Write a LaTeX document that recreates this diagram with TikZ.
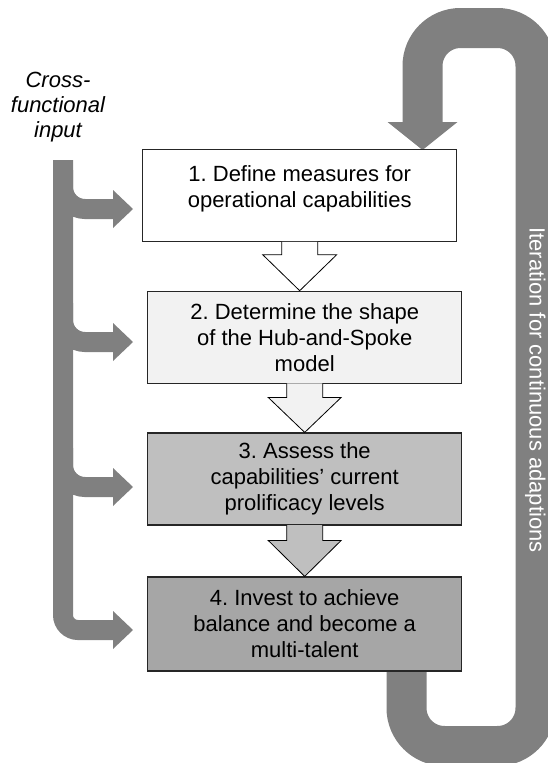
\documentclass[tikz,border=0pt]{standalone}
\usepackage{fontspec}
\setmainfont{Liberation Sans}
\usetikzlibrary{calc}
\definecolor{loopgray}{HTML}{808080}
\definecolor{boxtwo}{HTML}{F2F2F2}
\definecolor{boxthree}{HTML}{BFBFBF}
\definecolor{boxfour}{HTML}{A6A6A6}
\frenchspacing
\begin{document}
\begin{tikzpicture}[x=1pt,y=-1pt,
  stepbox/.style={draw=black!85, line width=1.2pt, minimum width=314pt, minimum height=92pt,
    align=center, font=\frenchspacing\fontsize{22}{26}\selectfont, inner sep=0pt},
  blockarrow/.style={draw=black, line width=0.8pt, line join=miter},
  band/.style={draw=loopgray, line width=20pt},
  headfill/.style={fill=loopgray},
  sidetext/.style={font=\itshape\fontsize{22}{25}\selectfont, align=center},
  looptext/.style={font=\fontsize{22}{26}\selectfont, text=white, rotate=-90, anchor=base}]
\useasboundingbox (0,0) rectangle (548,763);
\clip (0,0) rectangle (548,763);

% right iteration loop (behind boxes)
\coordinate (loopStart) at (406.5,650);
\coordinate (loopEnd) at (422.5,122.5);
\coordinate (loopTip) at (422.5,150);
\draw[loopgray, line width=40pt, rounded corners=38pt] (loopStart) -- (406.5,746) -- (535.5,746) -- (535.5,28) -- (422.5,28) -- (loopEnd);
\fill[loopgray] (387.5,122) -- (loopTip) -- (457.5,122) -- cycle;

% boxes
\node[stepbox, fill=white] (b1) at (299.7,195.8) {1. Define measures for\\operational capabilities\\[-7pt]\mbox{}};
\node[stepbox, fill=boxtwo] (b2) at (304.7,337.3) {2. Determine the shape\\of the Hub-and-Spoke\\model};
\node[stepbox, fill=boxthree] (b3) at (304.7,479) {3. Assess the\\capabilities’ current\\prolificacy levels};
\node[stepbox, fill=boxfour, minimum height=94pt] (b4) at (304.7,624) {4. Invest to achieve\\balance and become a\\multi-talent};

% block arrows between boxes
\filldraw[blockarrow, fill=white]
  ($(b1.south)+(-18,-0.6)$) -- ($(b1.south |- b2.north)+(-18,-36)$) -- ($(b1.south |- b2.north)+(-37,-36)$)
  -- (b1.south |- b2.north) -- ($(b1.south |- b2.north)+(37,-36)$) -- ($(b1.south |- b2.north)+(18,-36)$)
  -- ($(b1.south)+(18,-0.6)$);
\filldraw[blockarrow, fill=boxtwo]
  ($(b2.south)+(-18,-0.6)$) -- ($(b2.south |- b3.north)+(-18,-35)$) -- ($(b2.south |- b3.north)+(-36.5,-35)$)
  -- (b2.south |- b3.north) -- ($(b2.south |- b3.north)+(36.5,-35)$) -- ($(b2.south |- b3.north)+(18,-35)$)
  -- ($(b2.south)+(18,-0.6)$);
\filldraw[blockarrow, fill=boxthree]
  ($(b3.south)+(-18,-0.6)$) -- ($(b3.south |- b4.north)+(-18,-36)$) -- ($(b3.south |- b4.north)+(-36.5,-36)$)
  -- (b3.south |- b4.north) -- ($(b3.south |- b4.north)+(36.5,-36)$) -- ($(b3.south |- b4.north)+(18,-36)$)
  -- ($(b3.south)+(18,-0.6)$);

% cross-functional input bracket
\node[sidetext] (cfi) at (58,107) {Cross-\\functional\\input};
\coordinate (inTop) at (63,160);
\coordinate (tipA) at (133,209);
\coordinate (tipB) at (133,342);
\coordinate (tipC) at (133,487);
\coordinate (tipD) at (133,630);
\draw[band, rounded corners=15pt] (inTop) -- (63,630) -- (113,630);
\draw[band, rounded corners=22pt] (63,170) -- (63,209) -- (113,209);
\draw[band, rounded corners=22pt] (63,303) -- (63,342) -- (113,342);
\draw[band, rounded corners=22pt] (63,448) -- (63,487) -- (113,487);
\foreach \t in {tipA,tipB,tipC,tipD}{
  \fill[headfill] ($(\t)+(-20,-19)$) -- (\t) -- ($(\t)+(-20,19)$) -- cycle;
}

% loop label
\node[looptext] (iter) at (529.5,390) {Iteration for continuous adaptions};
\end{tikzpicture}
\end{document}
